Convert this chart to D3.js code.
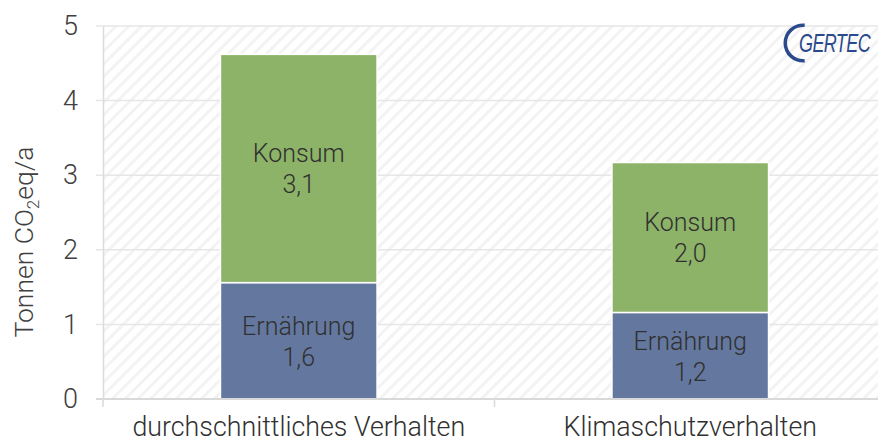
<!DOCTYPE html>
<html>
<head>
<meta charset="utf-8">
<script src="https://cdn.jsdelivr.net/npm/d3@7"></script>
<style>
  body { margin: 0; background: #fff; }
  svg { display: block; font-family: Roboto, "Open Sans", sans-serif; font-weight: 300; }
</style>
</head>
<body>
<svg class="chart" width="878" height="443"></svg>
<script>
"use strict";

var categories = ['durchschnittliches Verhalten', 'Klimaschutzverhalten'];
var seriesNames = ['Ernährung', 'Konsum'];
var ernaehrung = [1.56, 1.16];
var konsum = [3.06, 2.01];
var yTicks = [0, 1, 2, 3, 4, 5];
var colors = {'Ernährung': '#64789f', 'Konsum': '#8cb368'};

var svg = d3.select('.chart');
var plotTop = 26, plotBottom = 399, plotLeft = 103, plotRight = 886;

var x = d3.scaleBand().domain(categories).range([plotLeft, plotRight]).paddingInner(0.6).paddingOuter(0.3);
var y = d3.scaleLinear().domain([0, 5]).range([plotBottom, plotTop]);

// hatched background
var defs = svg.append('defs');
var pat = defs.append('pattern')
  .attr('id', 'hatch')
  .attr('patternUnits', 'userSpaceOnUse')
  .attr('width', 9).attr('height', 9)
  .attr('patternTransform', 'rotate(45)');
pat.append('rect').attr('width', 9).attr('height', 9).attr('fill', '#fff');
pat.append('rect').attr('x', 0).attr('width', 3).attr('height', 9).attr('fill', '#f3f3f3');

svg.append('rect')
  .attr('x', plotLeft).attr('y', plotTop)
  .attr('width', 878 - plotLeft).attr('height', plotBottom - plotTop)
  .attr('fill', 'url(#hatch)');

// gridlines
svg.append('g').selectAll('line')
  .data(yTicks.filter(function (d) { return d > 0; }))
  .enter().append('line')
  .attr('x1', plotLeft - 7).attr('x2', 878)
  .attr('y1', function (d) { return y(d); })
  .attr('y2', function (d) { return y(d); })
  .attr('stroke', '#e6e6e6').attr('stroke-width', 1.5);

// y axis
var yAxis = svg.append('g')
  .attr('transform', 'translate(' + plotLeft + ',0)')
  .call(d3.axisLeft(y).tickValues(yTicks).tickSize(0).tickPadding(25).tickFormat(d3.format('d')));
yAxis.select('.domain').attr('stroke', '#dcdcdc').attr('stroke-width', 1.5);
yAxis.selectAll('text').attr('font-size', 27).attr('fill', '#404040')
  .attr('font-family', 'Roboto, sans-serif').attr('font-weight', 300);

// stacked bars
var stack = d3.stack().keys(seriesNames);
var rows = categories.map(function (c, i) {
  return {'cat': c, 'Ernährung': ernaehrung[i], 'Konsum': konsum[i]};
});
var layers = stack(rows);
var fmt = function (v) { return d3.format('.1f')(v).replace('.', ','); };

layers.forEach(function (layer) {
  var g = svg.append('g');
  g.selectAll('rect')
    .data(layer)
    .enter().append('rect')
    .attr('x', function (d) { return x(d.data.cat); })
    .attr('width', x.bandwidth())
    .attr('y', function (d) { return y(d[1]); })
    .attr('height', function (d) { return y(d[0]) - y(d[1]); })
    .attr('fill', colors[layer.key])
    .attr('stroke', '#fff').attr('stroke-width', 1.5);
  var cx = function (d) { return x(d.data.cat) + x.bandwidth() / 2; };
  var t = g.selectAll('text')
    .data(layer)
    .enter().append('text')
    .attr('text-anchor', 'middle')
    .attr('font-size', 25)
    .attr('fill', '#303030')
    .attr('x', cx)
    .attr('y', function (d) { return (y(d[0]) + y(d[1])) / 2; });
  t.append('tspan').attr('x', cx).attr('dy', -6).text(layer.key);
  t.append('tspan').attr('x', cx).attr('dy', 31).text(function (d) { return fmt(d[1] - d[0]); });
});

// x axis
var xAxis = svg.append('g')
  .attr('transform', 'translate(0,' + plotBottom + ')')
  .call(d3.axisBottom(x).tickSize(0).tickPadding(0));
xAxis.select('.domain').remove();
xAxis.append('line').attr('x1', plotLeft - 7).attr('x2', 878).attr('stroke', '#d9d9d9').attr('stroke-width', 2);
var bounds = [plotLeft, plotLeft + x.step()];
xAxis.selectAll('.sep').data(bounds).enter().append('line')
  .attr('x1', function (d) { return d; }).attr('x2', function (d) { return d; })
  .attr('y1', 0).attr('y2', 8).attr('stroke', '#d9d9d9').attr('stroke-width', 1.5);
xAxis.selectAll('.tick text').attr('font-size', 26.8).attr('fill', '#303030')
  .attr('dy', null).attr('y', 37)
  .attr('font-family', 'Roboto, sans-serif').attr('font-weight', 300);

// y title
var yt = svg.append('text')
  .attr('transform', 'translate(33,242) rotate(-90)')
  .attr('text-anchor', 'middle')
  .attr('font-size', 26.5)
  .attr('fill', '#404040');
yt.append('tspan').text('Tonnen CO');
yt.append('tspan').attr('font-size', 17).attr('dy', 6).text('2');
yt.append('tspan').attr('dy', -6).text('eq/a');

// logo
var logo = svg.append('g').attr('transform', 'translate(803,43)');
logo.append('path')
  .attr('d', d3.arc().innerRadius(16).outerRadius(19.5).startAngle(0.97 * Math.PI).endAngle(2.03 * Math.PI)())
  .attr('fill', '#2b4a8b');
logo.append('text')
  .attr('transform', 'translate(-4,9) scale(1,1.45)')
  .attr('font-family', '"Liberation Sans", sans-serif')
  .attr('font-style', 'italic')
  .attr('font-weight', 400)
  .attr('font-size', 18)
  .attr('letter-spacing', -0.6)
  .attr('fill', '#2b4a8b')
  .text('GERTEC');
</script>
</body>
</html>
